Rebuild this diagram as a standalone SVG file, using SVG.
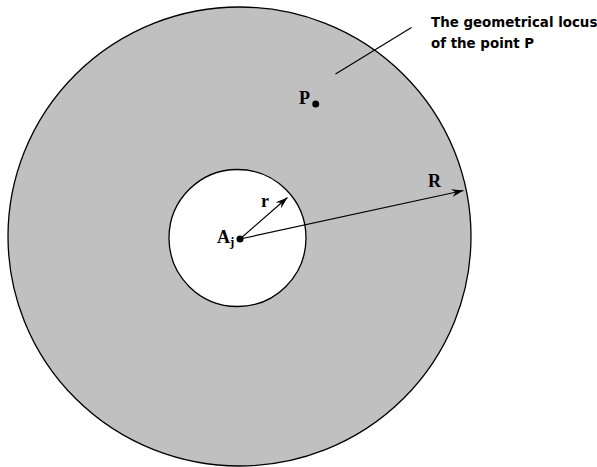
<svg xmlns="http://www.w3.org/2000/svg" width="597" height="467" viewBox="0 0 597 467">
<style>
.ln{stroke:#000;stroke-width:1.2;fill:none}
.lbl{font-family:"Liberation Serif",serif;font-weight:bold;font-size:18px;fill:#000}
.note{font-family:"DejaVu Sans",sans-serif;font-weight:bold;font-size:13.4px;fill:#000}
</style>
<defs>
<marker id="ah" viewBox="0 0 12 8" refX="12" refY="4" markerWidth="12" markerHeight="8" markerUnits="userSpaceOnUse" orient="auto">
<path d="M0,0 L12,4 L0,8 L4,4 Z" fill="#000"/>
</marker>
</defs>
<g id="outer"><ellipse cx="239.5" cy="236.5" rx="231.5" ry="229.5" fill="#c0c0c0" stroke="#000" stroke-width="1.3"/></g>
<g id="inner"><ellipse cx="237.5" cy="238" rx="68.5" ry="68.5" fill="#fff" stroke="#000" stroke-width="1.3"/></g>
<g id="connectors">
<line class="ln" x1="240" y1="239" x2="287.5" y2="197.5" marker-end="url(#ah)"/>
<line class="ln" x1="240" y1="239" x2="463.5" y2="190.5" marker-end="url(#ah)"/>
<line class="ln" x1="411.5" y1="27.5" x2="335.5" y2="74"/>
</g>
<g id="center"><circle cx="240" cy="239" r="3.5" fill="#000"/>
<text class="lbl" x="217" y="243">A<tspan font-size="13" dy="3">j</tspan></text></g>
<g id="labelr"><text class="lbl" x="261" y="206.5">r</text></g>
<g id="labelR"><text class="lbl" x="428" y="187">R</text></g>
<g id="pointP"><circle cx="315.7" cy="104" r="3.5" fill="#000"/>
<text class="lbl" x="299" y="104">P</text></g>
<g id="note"><text class="note" x="431" y="26.5">The geometrical locus</text>
<text class="note" x="431" y="47.5">of the point P</text></g>
</svg>
